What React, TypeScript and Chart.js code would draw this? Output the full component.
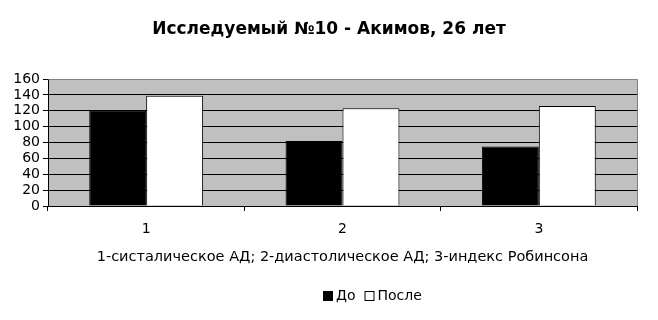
import React, { useEffect, useRef } from "react";
import { Chart, registerables } from "chart.js";

Chart.register(...registerables);

const categories = ["1", "2", "3"];
const seriesNames = ["До", "После"];
const beforeValues = [120, 82, 75];
const afterValues = [139, 123, 126];
const yTicks = [0, 20, 40, 60, 80, 100, 120, 140, 160];
const chartTitle = "Исследуемый №10 - Акимов, 26 лет";
const xAxisTitle = "1-систалическое АД; 2-диастолическое АД; 3-индекс Робинсона";

const FONT = "'DejaVu Sans', sans-serif";

const bgPlugin = {
  id: "plotBg",
  beforeDraw(chart: any) {
    const { ctx, chartArea } = chart;
    ctx.save();
    ctx.fillStyle = "#C0C0C0";
    ctx.fillRect(chartArea.left, chartArea.top, chartArea.right - chartArea.left, chartArea.bottom - chartArea.top);
    ctx.restore();
  },
  afterDraw(chart: any) {
    const { ctx, chartArea, width } = chart;
    ctx.save();
    ctx.strokeStyle = "#808080";
    ctx.lineWidth = 1;
    ctx.beginPath();
    ctx.moveTo(Math.round(chartArea.left) + 0.5, Math.round(chartArea.top) + 0.5);
    ctx.lineTo(Math.round(chartArea.right) + 0.5, Math.round(chartArea.top) + 0.5);
    ctx.lineTo(Math.round(chartArea.right) + 0.5, Math.round(chartArea.bottom));
    ctx.stroke();
    ctx.fillStyle = "#000";
    ctx.font = `bold 17px ${FONT}`;
    ctx.textAlign = "center";
    ctx.textBaseline = "middle";
    ctx.fillText(chartTitle, width / 2, 30);
    ctx.font = `14px ${FONT}`;
    ctx.textAlign = "left";
    let x = 323;
    const cy = 296;
    chart.data.datasets.forEach((ds: any) => {
      ctx.fillStyle = ds.backgroundColor;
      ctx.fillRect(x, cy - 5, 10, 10);
      ctx.strokeStyle = "#000";
      ctx.strokeRect(x + 0.5, cy - 4.5, 9, 9);
      ctx.fillStyle = "#000";
      ctx.fillText(ds.label, x + 13, cy);
      x += 13 + ctx.measureText(ds.label).width + 9;
    });
    ctx.restore();
  },
};

export default function App() {
  const ref = useRef<HTMLCanvasElement>(null);
  useEffect(() => {
    document.body.style.margin = "0";
    const chart = new Chart(ref.current!, {
      type: "bar",
      data: {
        labels: categories,
        datasets: [
          {
            label: seriesNames[0],
            data: beforeValues,
            backgroundColor: "#000000",
            borderColor: "#000000",
            borderWidth: 1,
            categoryPercentage: 0.58,
            barPercentage: 1,
          },
          {
            label: seriesNames[1],
            data: afterValues,
            backgroundColor: "#FFFFFF",
            borderColor: "#000000",
            borderWidth: 1,
            categoryPercentage: 0.58,
            barPercentage: 1,
          },
        ],
      },
      options: {
        animation: false,
        responsive: false,
        maintainAspectRatio: false,
        layout: { padding: { top: 79, right: 21, left: 0, bottom: 0 } },
        plugins: {
          legend: { display: false },
          title: { display: false },
          tooltip: { enabled: false },
        },
        scales: {
          x: {
            grid: {
              display: true,
              drawOnChartArea: false,
              drawTicks: true,
              tickLength: 5,
              color: "#000",
              offset: true,
            },
            border: { display: true, color: "#000", width: 1 },
            ticks: { color: "#000", font: { family: FONT, size: 14 }, padding: 10 },
            title: {
              display: true,
              text: xAxisTitle,
              color: "#000",
              font: { family: FONT, size: 14.5 },
              padding: { top: 0, bottom: 54 },
            },
            afterFit(scale: any) {
              scale.height = 114;
            },
          },
          y: {
            min: 0,
            max: 160,
            afterBuildTicks(scale: any) {
              scale.ticks = yTicks.map((v) => ({ value: v }));
            },
            grid: {
              color: "#000",
              lineWidth: 1,
              drawTicks: true,
              tickLength: 5,
            },
            border: { display: true, color: "#000", width: 1 },
            ticks: { color: "#000", font: { family: FONT, size: 14 }, padding: 3, autoSkip: false },
            afterFit(scale: any) {
              scale.width = 48;
            },
          },
        },
      },
      plugins: [bgPlugin],
    });
    return () => chart.destroy();
  }, []);
  return (
    <div style={{ width: 658, height: 320 }}>
      <canvas ref={ref} width={658} height={320} style={{ display: "block" }} />
    </div>
  );
}
